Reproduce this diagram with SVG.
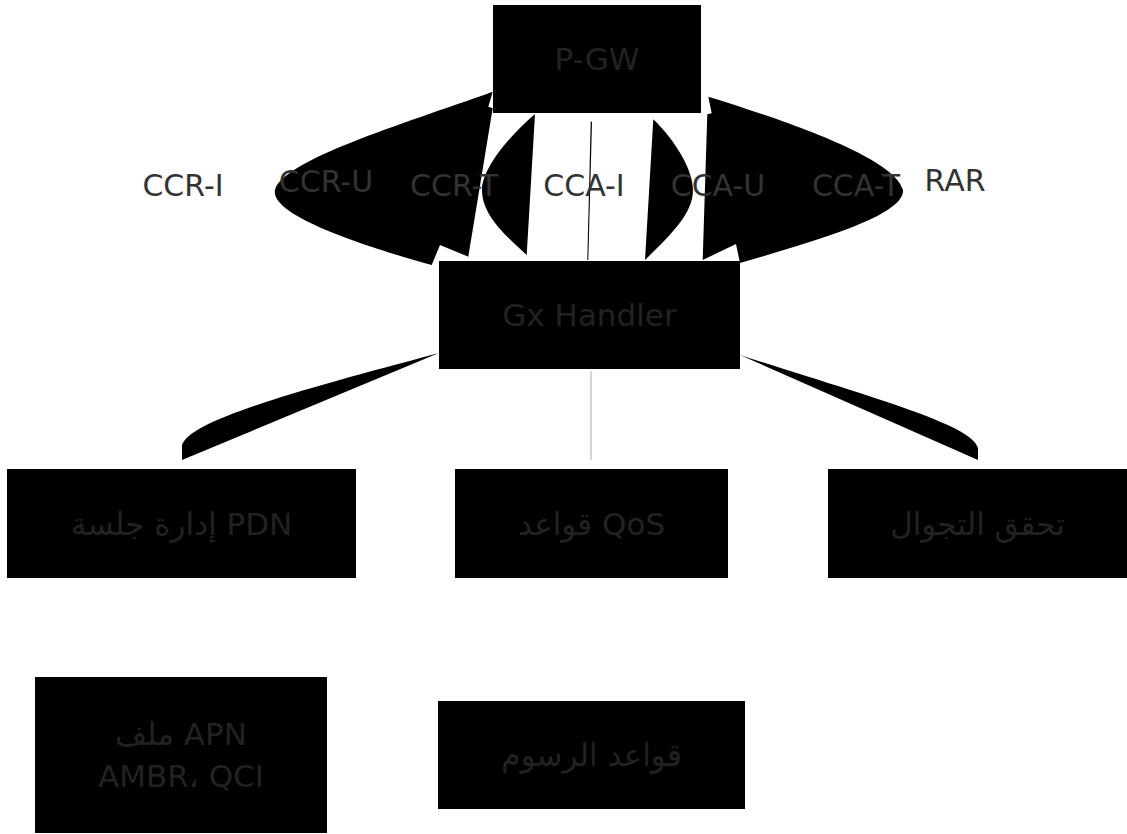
<svg xmlns="http://www.w3.org/2000/svg" width="1127" height="834" viewBox="0 0 1127 834">
<style>
.node rect{fill:#000;}
.node text{fill:#222;font-family:"DejaVu Sans","Noto Sans",sans-serif;font-size:31px;text-anchor:middle;}
.edge{fill:#000;stroke:none;}
.lbl{fill:#333;font-family:"DejaVu Sans","Noto Sans",sans-serif;font-size:30px;text-anchor:middle;}
</style>
<rect width="1127" height="834" fill="#fff"/>
<g id="connectors">
<path class="edge" d="M492.7,91.7 C400,125 283,160 275,190 C270,215 360,245 431.7,265 L440,245 L468.3,256.7 L492.7,108.3 L488.3,106.7 Z"/>
<path class="edge" d="M535,114 C505,140 482,170 482,190 C482,215 505,235 526.7,255 Z"/>
<path class="edge" d="M590.7,121.7 L592,121.7 L588.3,260 L587.3,260 Z"/>
<path class="edge" d="M653.3,119.3 C675,140 693,170 693,190 C693,215 668,237 645,260 Z"/>
<path class="edge" d="M708.3,96.7 C800,125 895,160 903,190 C905,215 820,240 740,263 L736,244 L702.7,260 L707.3,114.3 L711.7,113.3 Z"/>
<path class="edge" d="M438.3,353.3 C300,390 190,420 182,445 L182,460 Z"/>
<path class="edge" d="M740,355 C880,400 972,425 978,448 L978,460 Z"/>
<line x1="591" y1="371" x2="591" y2="460" stroke="#aaa" stroke-width="1"/>
<text class="lbl" x="183" y="196">CCR-I</text>
<text class="lbl" x="326" y="192">CCR-U</text>
<text class="lbl" x="454" y="196">CCR-T</text>
<text class="lbl" x="584" y="196">CCA-I</text>
<text class="lbl" x="718" y="196">CCA-U</text>
<text class="lbl" x="856" y="196">CCA-T</text>
<text class="lbl" x="955" y="191">RAR</text>
</g>
<g id="pgw" class="node"><rect x="493" y="5" width="208" height="108"/><text x="597" y="70">P-GW</text></g>
<g id="gx" class="node"><rect x="439" y="261" width="301" height="108"/><text x="589.5" y="326">Gx Handler</text></g>
<g id="pdn" class="node"><rect x="7" y="469" width="349" height="109"/><text x="181.5" y="535">إدارة جلسة PDN</text></g>
<g id="qos" class="node"><rect x="455" y="469" width="273" height="109"/><text x="591.5" y="535">قواعد QoS</text></g>
<g id="roam" class="node"><rect x="828" y="469" width="299" height="109"/><text x="977.5" y="535">تحقق التجوال</text></g>
<g id="apn" class="node"><rect x="35" y="677" width="292" height="156"/><text x="181" y="745">ملف APN</text><text x="181" y="787">AMBR، QCI</text></g>
<g id="charging" class="node"><rect x="438" y="701" width="307" height="108"/><text x="591.5" y="766">قواعد الرسوم</text></g>
</svg>
